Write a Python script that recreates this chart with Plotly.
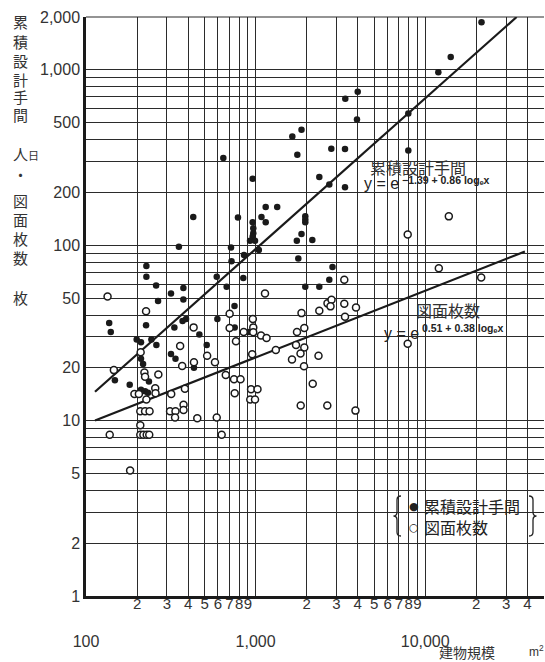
import math
import plotly.graph_objects as go

# ---------------- data ----------------
# 累積設計手間 (filled circles): building size m2, man-days
design_x = [137, 140, 227, 227, 259, 266, 226, 199, 211, 211, 217, 148, 181, 211, 223, 232,
            235, 243, 260, 317, 353, 375, 375, 371, 389, 332, 317, 337, 466, 433, 515, 429,
            590, 595, 645, 675, 716, 721, 751, 753, 787, 854, 846, 961, 961, 969, 969, 961,
            927, 992, 1045, 1083, 1147, 1147, 1341, 914, 1646, 1865, 1762, 1750, 1865, 1786,
            1963, 1963, 1963, 2160, 1963, 2375, 2720, 2841, 2375, 2720, 3366, 2795, 3366,
            3380, 4000, 3960, 7950, 7950, 11950, 14140, 21480]
design_y = [36, 32, 76, 66, 59, 48, 35, 29, 28, 22.5, 21, 17, 16, 15, 14.7, 14.4,
            16.7, 29, 27, 53, 98, 57, 49, 37, 38, 34, 24, 22.5, 31, 20, 27, 145,
            66, 38, 314, 58, 97, 81, 45, 34, 144, 88, 65, 239, 135, 125, 117, 112,
            106, 106, 94, 145, 165, 135, 165, 32, 417, 455, 328, 106, 116, 84,
            146, 140, 135, 107, 58, 58, 63.5, 75, 245, 222, 214, 355, 354,
            684, 750, 521, 564, 347, 967, 1183, 1864]

# 図面枚数 (open circles): building size m2, number of drawings
drawing_x = [134, 226, 431, 359, 210, 369, 433, 146, 267, 221, 223, 256, 257, 193, 205, 318,
             383, 227, 209, 223, 237, 313, 337, 335, 376, 376, 453, 590, 209, 138, 209, 218,
             228, 236, 631, 182, 703, 703, 963, 969, 851, 969, 1076, 1160, 766, 518, 576,
             955, 1316, 667, 746, 815, 753, 940, 1026, 930, 992, 1136, 1865, 1754, 1937,
             1731, 1937, 1840, 1639, 1929, 2349, 2172, 1845, 2647, 3880, 2375, 2654, 2803,
             2765, 3334, 3334, 3366, 3908, 7885, 7885, 13780, 12030, 21390]
drawing_y = [51, 42, 34, 26.6, 24.5, 20.5, 21.5, 19.4, 18.3, 18.8, 17.8, 15.3, 14.3, 14.2, 14.2, 14.2,
             15.2, 13.2, 11.3, 11.3, 11.3, 11.3, 11.3, 10.4, 12.3, 11.5, 10.3, 10.4, 9.4, 8.3, 8.3, 8.3,
             8.3, 8.3, 8.3, 5.2, 40.6, 33.7, 38, 34, 32, 31.9, 30.6, 29.6, 28.3, 23.4, 21.5,
             23.9, 25.3, 18.2, 17.2, 17.2, 14.3, 15.1, 15.1, 13.2, 13.2, 53, 41, 32, 33.7,
             27, 26.1, 24.1, 22.3, 20.4, 23.4, 16.2, 12.2, 12.2, 11.4, 42.3, 46.6, 48.8,
             44.8, 63.5, 46.3, 39.1, 44.2, 27.4, 115, 146, 74, 65.4]

# regression lines (end points)
line_design_x = [113, 34600]
line_design_y = [14.6, 2000]
line_drawing_x = [113, 38700]
line_drawing_y = [10.0, 92]

# axis tick labels
y_label_vals = [1, 2, 5, 10, 20, 50, 100, 200, 500, 1000, 2000]
y_label_text = ["1", "2", "5", "10", "20", "50", "100", "200", "500", "1,000", "2,000"]
x_major_vals = [100, 1000, 10000]
x_major_text = ["100", "1,000", "10,000"]
x_minor_digits = ["2", "3", "4", "5", "6", "7", "8", "9"]

series_names = ["累積設計手間", "図面枚数"]
formula_design = "−1.39 + 0.86 logₑx"
formula_drawing = "0.51 + 0.38 logₑx"

# ---------------- grid / tick positions ----------------
xgrid, xtext = [], []
for k in range(2, 5):
    for m in range(1, 10):
        v = m * 10 ** k
        if v > 45000:
            continue
        xgrid.append(v)
        xtext.append("" if m == 1 else x_minor_digits[m - 2])

ygrid, ytext = [], []
for k in range(0, 4):
    for m in range(1, 10):
        v = m * 10 ** k
        if v > 2000:
            continue
        ygrid.append(v)
        ytext.append(y_label_text[y_label_vals.index(v)] if v in y_label_vals else "")

# ---------------- figure ----------------
L, R, T, B = 86, 544, 17, 596
W, H = R - L, B - T


def P(px, py):
    return (px - L) / W, (B - py) / H


INK = "#1a1a1a"
TXT = "#333333"
JP = "Noto Sans CJK JP"
SANS = "Liberation Sans"

fig = go.Figure()
fig.add_trace(go.Scatter(x=line_design_x, y=line_design_y, mode="lines",
                         line=dict(color=INK, width=2.2), showlegend=False, hoverinfo="skip"))
fig.add_trace(go.Scatter(x=line_drawing_x, y=line_drawing_y, mode="lines",
                         line=dict(color=INK, width=2.2), showlegend=False, hoverinfo="skip"))
fig.add_trace(go.Scatter(x=design_x, y=design_y, mode="markers", name=series_names[0],
                         marker=dict(symbol="circle", size=6.5, color=INK, line=dict(width=0)),
                         showlegend=False))
fig.add_trace(go.Scatter(x=drawing_x, y=drawing_y, mode="markers", name=series_names[1],
                         marker=dict(symbol="circle", size=7, color="white",
                                     line=dict(color=INK, width=1.5)),
                         showlegend=False))
# carrier for the secondary (major-label) x axis
fig.add_trace(go.Scatter(x=[1000], y=[1], xaxis="x2", mode="markers",
                         marker=dict(opacity=0), showlegend=False, hoverinfo="skip"))

xr = [2, 2 + W / 169.6]
yr = [0, math.log10(2000)]

fig.update_layout(
    width=545, height=662,
    margin=dict(l=L, r=545 - R, t=T, b=662 - B, pad=0),
    paper_bgcolor="white", plot_bgcolor="white",
    xaxis=dict(type="log", range=xr, tickvals=xgrid, ticktext=xtext, ticks="",
               showgrid=True, gridcolor="#2b2b2b", gridwidth=1.1,
               showline=True, linecolor=INK, linewidth=2.5, zeroline=False,
               tickangle=0, ticklabelstandoff=-8,
               tickfont=dict(family=SANS, size=15, color=TXT)),
    xaxis2=dict(type="log", range=xr, overlaying="x", anchor="y", side="bottom",
                tickvals=x_major_vals, ticktext=x_major_text, ticks="", tickangle=0,
                showgrid=False, showline=False, zeroline=False, ticklabelstandoff=34,
                tickfont=dict(family=SANS, size=16, color=TXT)),
    yaxis=dict(type="log", range=yr, tickvals=ygrid, ticktext=ytext, ticks="",
               showgrid=True, gridcolor="#2b2b2b", gridwidth=1.1,
               showline=True, linecolor=INK, linewidth=2.5, zeroline=False,
               tickfont=dict(family=SANS, size=16, color=TXT)),
    showlegend=False,
)

shapes = []
# top border at 2,000
shapes.append(dict(type="line", xref="paper", yref="paper", x0=0, x1=1, y0=1, y1=1,
                   line=dict(color="#2b2b2b", width=1.2)))
# white panels behind labels (hide grid only)
for (x0, y0, x1, y1) in [(360, 157, 500, 192), (405, 299, 512, 339), (396, 495, 534, 537)]:
    a = P(x0, y1)
    b = P(x1, y0)
    shapes.append(dict(type="rect", xref="paper", yref="paper", x0=a[0], y0=a[1], x1=b[0], y1=b[1],
                       fillcolor="white", line=dict(width=0), layer="between"))


def path(points_cmds):
    s = ""
    for cmd, pts in points_cmds:
        s += cmd
        s += " ".join("%.5f,%.5f" % P(px, py) for px, py in pts) + " "
    return s.strip()


left_brace = path([("M", [(401, 496)]), ("Q", [(397, 496), (397, 500)]), ("L", [(397, 512)]),
                   ("Q", [(397, 516), (393.5, 516)]), ("Q", [(397, 516), (397, 520)]),
                   ("L", [(397, 532)]), ("Q", [(397, 536), (401, 536)])])
right_brace = path([("M", [(529, 496)]), ("Q", [(533, 496), (533, 500)]), ("L", [(533, 512)]),
                    ("Q", [(533, 516), (536.5, 516)]), ("Q", [(533, 516), (533, 520)]),
                    ("L", [(533, 532)]), ("Q", [(533, 536), (529, 536)])])
for pth in (left_brace, right_brace):
    shapes.append(dict(type="path", xref="paper", yref="paper", path=pth,
                       line=dict(color="#222", width=1.3), layer="above"))
fig.update_layout(shapes=shapes)

ann = []


def A(px, py, text, size, family=JP, xanchor="center", color=TXT, yanchor="middle"):
    x, y = P(px, py)
    ann.append(dict(x=x, y=y, xref="paper", yref="paper", text=text, showarrow=False,
                    xanchor=xanchor, yanchor=yanchor, font=dict(family=family, size=size, color=color)))


# y-axis title (vertical, one character per position)
for ch, yy in zip("累積設計手間", [21.5, 41, 60.5, 79.5, 97, 115]):
    A(20, yy, ch, 15)
A(26, 153, "人<span style='font-size:11px'>日</span>", 15)
A(20, 174, "・", 15)
for ch, yy in zip("図面枚数", [200, 219.5, 238.5, 257]):
    A(20, yy, ch, 15)
A(20, 297, "枚", 15)
# x-axis title
A(467, 652, "建物規模", 14)
A(536, 651, "m<sup>2</sup>", 12, family=SANS)
# regression labels
A(418, 167, series_names[0], 16)
A(362, 184, "y = e", 16, family=SANS, xanchor="left", color="#222")
A(400, 180, "<b>" + formula_design + "</b>", 10.5, family=SANS, xanchor="left", color="#222")
A(447.5, 310, series_names[1], 16)
A(382, 333, "y = e", 16, family=SANS, xanchor="left", color="#222")
A(420, 328, "<b>" + formula_drawing + "</b>", 10.5, family=SANS, xanchor="left", color="#222")
# legend (typeset like the reference)
A(407, 506, "●", 11, family="DejaVu Sans", xanchor="left", color="#222")
A(422, 506, series_names[0], 16, xanchor="left", color="#222")
A(407, 527, "○", 11, family="DejaVu Sans", xanchor="left", color="#222")
A(422, 527, series_names[1], 16, xanchor="left", color="#222")
fig.update_layout(annotations=ann)

fig.write_html("out.html", config={"displayModeBar": False},
               post_script="document.body.style.margin='0px';document.body.style.padding='0px';")
